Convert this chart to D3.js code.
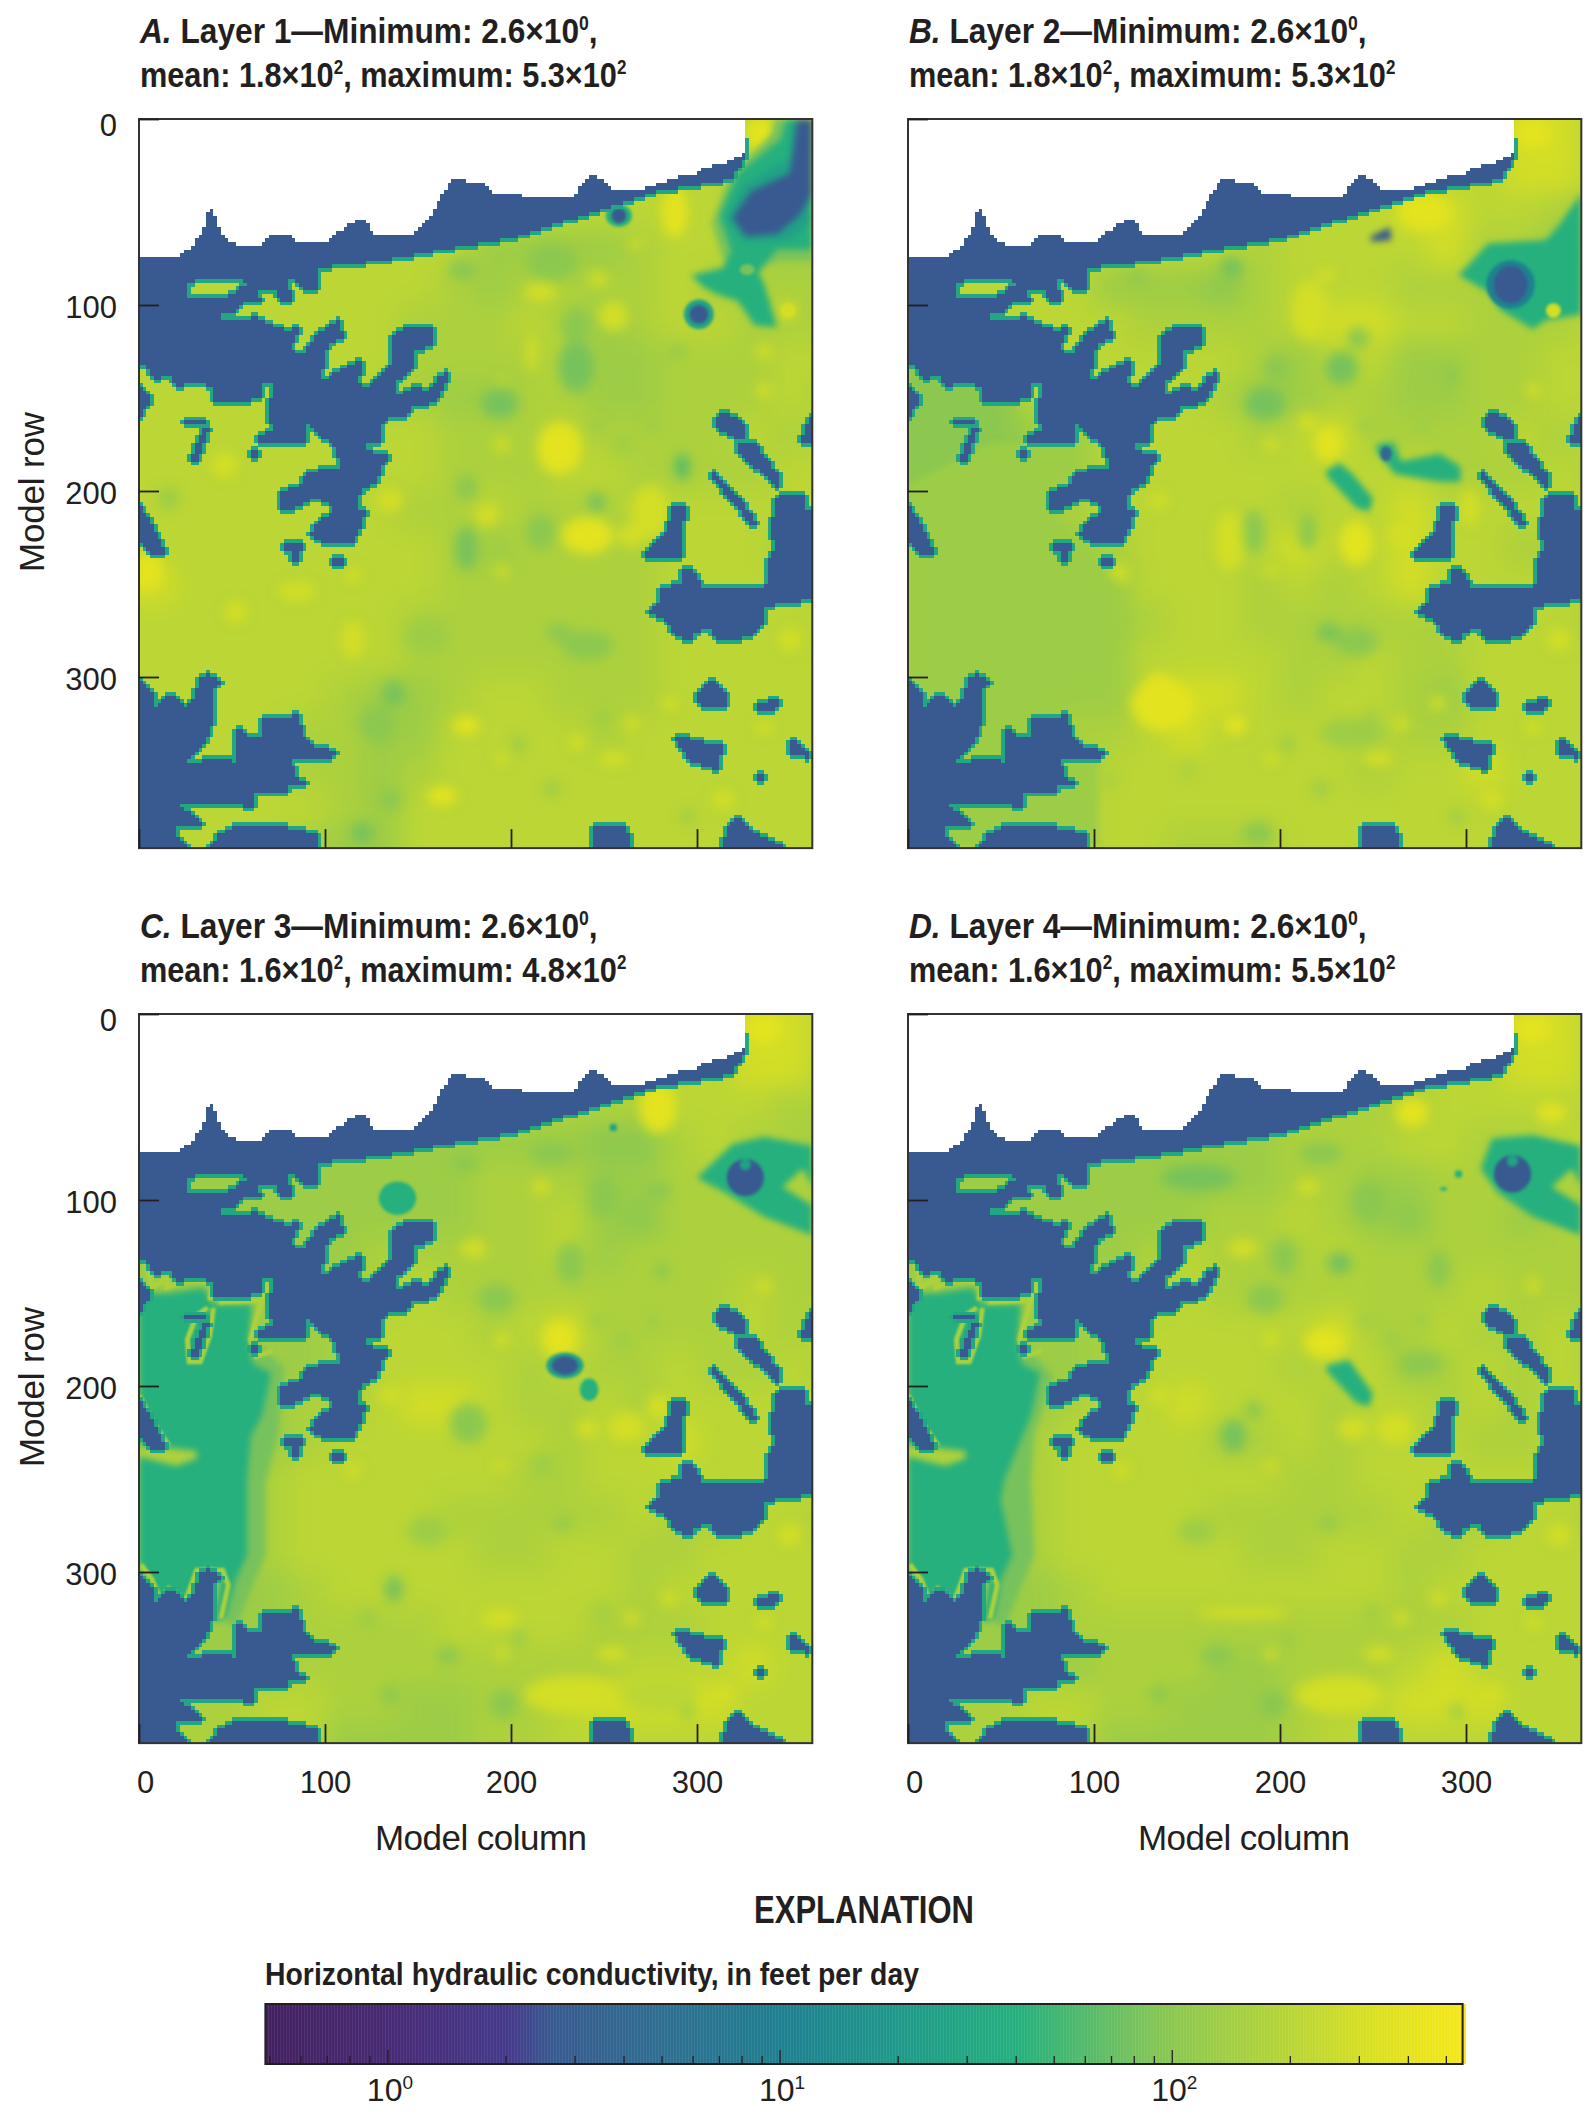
<!DOCTYPE html>
<html>
<head>
<meta charset="utf-8">
<script src="https://cdn.jsdelivr.net/npm/d3@7"></script>
<style>
  body { margin: 0; background: #fff; }
  text { font-family: "Liberation Sans Narrow", "Liberation Sans", sans-serif; fill: #231f20; }
</style>
</head>
<body>
<svg id="chart" width="1595" height="2117"></svg>
<script>
// Titles
const panelLetters = ['A.', 'B.', 'C.', 'D.'];
const layerNames = ['Layer 1', 'Layer 2', 'Layer 3', 'Layer 4'];
const layerMin = ['2.6', '2.6', '2.6', '2.6'];
const layerMean = ['1.8', '1.8', '1.6', '1.6'];
const layerMax = ['5.3', '5.3', '4.8', '5.5'];

// Colour key: log spaced conductivity against the printed ramp
const rampValues = [0.487, 1, 2, 2.6, 5, 10, 20, 40, 80, 100, 200, 316, 550];
const rampColors = ['#43205f', '#472a75', '#45398b', '#385a90', '#2f6f91', '#1f8090', '#1f9a8a', '#25b07e', '#77c25c', '#8cc84f', '#b9d536', '#d9e022', '#f6e81a'];
const legendMinor = [0.5, 0.6, 0.7, 0.8, 0.9, 2, 3, 4, 5, 6, 7, 8, 9, 20, 30, 40, 50, 60, 70, 80, 90, 200, 300, 400, 500];
const legendMajor = [1, 10, 100];

// One letter per conductivity class, feet per day
const levelKeys = 'abcdefghijklmn';
const levelValues = [2.6, 4, 10, 25, 40, 60, 80, 100, 130, 165, 205, 290, 380, 500];

// No-data area, model column and row
const whiteEdge = [[0,0],[0,72],[2,75],[22,75],[23,72],[28,69],[33,62],[36,55],[38,47],[40,48],[42,56],[46,63],[53,68],[64,68],[71,62],[82,62],[85,66],[100,66],[108,60],[118,53],[124,56],[126,62],[149,61],[158,50],[164,39],[170,31],[178,34],[187,35],[191,40],[204,40],[212,43],[232,43],[239,34],[243,29],[252,34],[254,38],[265,39],[279,35],[286,32],[300,29],[303,26],[314,24],[325,18],[327,11],[327,0]];

// Minimum-value cells, same in every layer
const maskMain = [[0,0],[322,0],[326,12],[326,21],[319,32],[279,39],[251,48],[232,54],[201,64],[170,69],[130,76],[95,80],[97,85],[97,92],[89,92],[83,85],[80,86],[82,98],[76,98],[74,92],[64,92],[66,98],[57,98],[53,103],[45,105],[45,108],[56,108],[63,106],[72,111],[80,114],[85,111],[87,113],[81,124],[89,126],[96,115],[109,107],[109,114],[113,116],[102,121],[100,128],[98,141],[110,134],[121,129],[118,142],[124,144],[135,132],[137,116],[144,112],[158,112],[158,121],[149,125],[147,135],[139,141],[138,149],[149,144],[156,146],[161,138],[167,136],[165,142],[160,152],[147,155],[143,161],[135,160],[131,164],[131,173],[122,174],[122,178],[135,181],[131,187],[128,196],[121,198],[118,204],[119,209],[122,211],[118,222],[115,228],[99,228],[92,224],[96,217],[106,210],[99,205],[92,205],[80,211],[75,210],[77,200],[86,197],[90,191],[99,188],[109,188],[104,174],[97,170],[90,162],[90,173],[78,175],[65,175],[65,170],[72,168],[70,160],[72,142],[67,141],[65,150],[52,153],[41,152],[40,144],[31,141],[20,144],[17,137],[9,141],[4,133],[0,132]];
const maskWestTop = [[0,143],[7,150],[1,160],[0,160]];
const maskStraitTop = [[24,162],[37,161],[37,164],[24,165]];
const maskStraitLow = [[36,164],[38,166],[34,176],[32,184],[28,183],[31,174]];
const maskDot = [[61,179],[65,179],[65,183],[61,183]];
const maskTee = [[79,228],[88,227],[86,237],[82,238],[81,231],[78,232]];
const maskDash = [[105,237],[111,237],[111,240],[105,240]];
const maskWest = [[0,207],[6,216],[15,234],[7,234],[0,227]];
const maskSouthWest = [[0,301],[7,307],[9,316],[15,310],[19,309],[25,317],[30,312],[32,301],[37,298],[44,303],[40,307],[39,327],[35,336],[26,344],[27,346],[46,343],[52,346],[53,327],[59,332],[65,332],[66,323],[79,323],[85,319],[89,332],[95,337],[106,340],[104,344],[82,345],[85,354],[90,357],[80,358],[80,362],[63,362],[61,370],[50,368],[22,368],[26,372],[34,379],[34,381],[19,380],[21,386],[28,392],[0,392]];
const maskSouth1 = [[38,392],[43,384],[52,380],[76,380],[95,384],[97,392]];
const maskSouth2 = [[243,392],[245,381],[262,380],[265,392]];
const maskSouth3 = [[314,392],[316,381],[322,376],[331,383],[348,392]];
const maskEast = [[344,201],[357,202],[358,210],[362,211],[362,258],[336,262],[335,272],[330,278],[310,281],[307,274],[299,276],[296,281],[288,277],[285,271],[274,265],[279,260],[281,252],[291,250],[292,243],[299,243],[303,251],[336,252],[339,246],[339,237],[342,231],[340,219],[342,209]];
const maskEast1 = [[309,162],[313,158],[322,160],[327,166],[325,173],[318,170],[313,168]];
const maskChain = [[322,174],[330,173],[337,182],[345,193],[345,200],[338,193],[331,187],[322,179]];
const maskStripe = [[307,189],[311,191],[323,204],[333,218],[330,219],[319,206],[308,193]];
const maskIsland = [[287,209],[294,207],[292,224],[291,236],[272,236],[272,232],[283,222]];
const maskEdge = [[357,170],[360,161],[362,160],[362,174],[357,173]];
const maskPond1 = [[299,310],[307,301],[317,310],[317,317],[303,317]];
const maskPond2 = [[333,314],[345,312],[343,317],[333,318]];
const maskPond3 = [[287,331],[314,337],[311,350],[296,345]];
const maskPond4 = [[349,336],[353,334],[361,341],[361,344],[350,341]];
const maskPond5 = [[332,353],[337,353],[337,357],[332,357]];
const maskIslandHole = [[25,90],[31,86],[56,85],[58,89],[52,93],[43,97],[27,95]];

const maskPolys = [maskMain, maskWestTop, maskStraitTop, maskStraitLow, maskDot, maskTee, maskDash, maskWest, maskSouthWest, maskSouth1, maskSouth2, maskSouth3, maskEast, maskEast1, maskChain, maskStripe, maskIsland, maskEdge, maskPond1, maskPond2, maskPond3, maskPond4, maskPond5];

// Coarse conductivity per layer, 20 x 20 model cells
const gridA = ['kkkkkkkkkkkkkkkkkkk','kkkkkkkkkkkkkkkkkkk','kkkkkkkkkkkkkkkkjjj','kkkkkkkkkiiiijkkjii','kkkkkkkkjijjjjkjjjj','kkkkkkkjjjkjijkkjjj','kkkkkkkjjjjkiijjjkk','kkkkkkjjiijjiijjjkj','kkkkkkkkjjjkjjjjkjk','kkkkkkkkjjjkkjjjjkk','kkkkkkkjjkjjjkkkkkk','kkkkkkkkjijjjjkkkjj','lkkkkkkkjjjjjjkkkkj','kkkkkkkjjjjjjjkkkkk','kkkkkkkjjjjjjjkkkkk','kkkkkjiijkkjjjkkkkk','kkkkjjiikkkkjkkkkkk','kkkkjjijkkkkkkkkkkk','kkkkkjikkkkkkkkkkkk','kkkkjiikkkkkkkkkkkk'];
const gridB = ['kkkkkkkkkkkkkkkkllk','kkkkkkkkkkkkkkkkllk','kkkkkkkkkkkkkllkkji','kkkkkkkkkjkkkkljjig','kkkkkiiihjkkkjjjjih','kkkkkkjjjjkllkkjjjk','kkkkkkkkkjikkiijjkk','hhhkkkkkjiijjiijjkk','hhhiikkkkjkljjjjkjk','hhiiikkkkkkkkkjjjkj','iiiijkkkkkjkklkkkkk','jjiiijkkkklkklkkjjj','jiiiiikkkjkjklkkkkk','jiiiiijkkjjjjjjkkkj','jiiiiikkkkjjkjjkkkk','jiiiiikllkjkkjikkkk','jiiijjklkkkkkjjkkkk','kiiiikkkkkkkjkklkkk','kkiijkkkkkkkkkkkkkk','kkiijkkjjjkkkkkkkkk'];
const gridC = ['kkkkkkkkkkkkkkkkllk','kkkkkkkkkkkkkkkkllk','jjjjjjjjjjjjjjkkkjj','iiiiiiiiiiiihhjkjji','iiiiiiiiijjjiijjjii','iiiiiiiiijjkihjjjjj','iiiiiijjjjjkijjjjjj','iiiiiijkjjjjjjjjkjj','iiiiijkkkjkljjjjkjk','iiiiijkkkkjkjjkjjkj','iiiijjkllkjjkjkkkkk','iiiijkkkkkkjkklkkkk','iiijkkkkkkjjkkkkkkk','iiijkkkkjjjjjkjjkkj','iiijkkkkkjjkkjjkkkk','iiiijkkkkkkkkjkkkkk','iiiijjjjkkkkjjjkkkk','iiiijjjjjjjjjkkklkk','jjjkkjjiijjkllllkkk','jjjkkiiiijjkkkkkkkk'];
const gridD = ['kkkkkkkkkkkkkkkkllk','kkkkkkkkkkkkkkkkllk','jjjjjjjjjjjjjjkkkkk','iiiiiiiiiijjjkkjjkk','iiiiiiiiiijjiijjjjj','iiiiiiiijjkjihjjijj','iiiiiijkjjjkjjjjjjj','iiiiiijkjjjjjjjkjjj','iiiiijkkkkkljjkjjkj','iiiiijkkkkjkkijkjkj','iiiijkklkkkjkkjkjkk','iiijkkkkjjkjkkkjjkk','iiijkkkkkkjjkkkkkkk','iiijkkkkjjjjjkjjkkj','iiijkkkkkjjkkjjkkkk','iiiijkkkkkkkkjkkkkk','iiiijjjjjjjjjjjkkkk','iiiiijjjiijjjklkkkk','jjjkkjjiiijkklllkkk','jjjkkiiiiijkkkkkkkk'];

// Soft highs and lows: column, row, radius across, radius down, class
const mottleShared = [[285,314,4,4,'l'],[265,325,4,4,'l'],[249,322,3,5,'i'],[204,336,4,5,'i'],[195,344,4,3,'l'],[314,366,6,5,'l'],[295,375,4,4,'i'],[336,327,4,4,'l'],[336,146,4,4,'l'],[276,165,4,4,'i'],[246,165,5,3,'i'],[195,175,4,4,'l'],[260,175,4,5,'i'],[195,243,4,3,'l'],[115,245,4,4,'l'],[109,355,5,5,'j'],[350,280,6,6,'l'],[222,360,5,4,'i'],[150,350,5,5,'j']];
const blobsA = [[46,186,7,7,'l'],[5,243,8,10,'m'],[85,254,10,5,'l'],[135,205,7,6,'l'],[226,177,12,14,'m'],[187,213,6,6,'l'],[241,224,14,10,'m'],[275,211,10,14,'l'],[265,224,8,6,'l'],[288,50,7,14,'m'],[267,67,3,3,'l'],[247,86,5,4,'l'],[216,93,9,5,'l'],[255,106,8,8,'l'],[349,103,5,5,'l'],[336,125,4,4,'l'],[211,126,3,10,'l'],[195,141,2,2,'l'],[176,326,7,5,'m'],[163,364,8,5,'m'],[236,335,5,4,'l'],[255,344,8,4,'l'],[115,280,6,10,'l'],[52,265,6,6,'l'],[174,81,8,6,'h'],[222,77,14,10,'h'],[235,133,10,14,'g'],[235,111,8,10,'h'],[194,153,10,8,'g'],[176,198,6,7,'h'],[246,206,5,5,'g'],[176,231,6,12,'g'],[216,222,8,10,'h'],[226,276,7,5,'h'],[241,283,14,8,'h'],[155,278,12,10,'i'],[137,309,6,7,'g'],[292,187,4,7,'f'],[16,204,6,6,'i'],[128,325,10,10,'h'],[120,384,6,6,'g'],[135,366,6,6,'h'],[290,125,4,3,'h'],[334,8,8,10,'m']];
const blobsB = [[137,315,17,14,'m'],[135,304,8,6,'m'],[78,250,6,5,'l'],[226,175,7,9,'m'],[216,103,10,16,'l'],[278,50,14,10,'m'],[336,8,10,8,'m'],[225,84,5,2,'m'],[215,163,5,5,'l'],[173,227,8,16,'l'],[241,228,9,12,'m'],[265,224,7,6,'l'],[302,209,5,10,'l'],[135,205,5,4,'l'],[113,243,5,4,'l'],[176,326,6,5,'m'],[253,344,8,4,'l'],[174,80,6,6,'g'],[233,134,9,9,'g'],[242,118,6,6,'h'],[192,153,11,9,'g'],[186,222,6,12,'h'],[215,222,5,10,'h'],[292,138,4,5,'h'],[226,276,6,5,'g'],[239,330,18,8,'i'],[241,281,12,8,'h'],[123,85,6,3,'h'],[198,134,7,8,'h'],[188,384,8,6,'h'],[204,336,3,4,'i']];
const blobsC = [[226,175,9,10,'m'],[279,50,10,14,'m'],[336,8,10,8,'m'],[135,205,6,4,'l'],[262,222,10,8,'l'],[241,223,6,5,'l'],[254,344,8,4,'l'],[232,366,25,10,'l'],[280,366,20,10,'k'],[216,93,5,4,'l'],[180,126,7,5,'l'],[279,211,6,7,'l'],[194,325,10,5,'l'],[175,80,7,5,'h'],[192,153,10,8,'h'],[232,134,8,11,'h'],[177,220,10,11,'h'],[250,98,8,12,'h'],[279,95,7,5,'h'],[137,309,5,7,'g'],[155,278,11,8,'i'],[166,345,6,5,'h'],[196,371,8,8,'h'],[135,366,5,5,'h'],[123,325,5,5,'i'],[217,242,6,6,'i'],[228,274,5,3,'h'],[281,138,4,5,'h'],[222,75,12,6,'h']];
const blobsD = [[224,177,11,8,'m'],[271,53,9,8,'m'],[346,53,8,5,'m'],[336,8,10,8,'m'],[215,93,6,4,'l'],[180,126,8,5,'l'],[135,205,5,4,'l'],[262,223,10,8,'l'],[239,223,8,6,'l'],[253,344,8,4,'l'],[232,366,24,10,'l'],[180,322,25,3,'l'],[156,88,20,7,'g'],[248,101,10,11,'h'],[232,134,7,6,'g'],[202,131,7,10,'h'],[192,153,10,8,'h'],[285,137,6,10,'h'],[175,227,7,9,'g'],[186,213,5,5,'h'],[276,188,12,6,'h'],[155,278,10,7,'i'],[166,345,8,6,'h'],[196,371,8,8,'h'],[135,366,5,5,'h'],[226,274,5,3,'h'],[222,75,12,6,'h']];

// Sharp small features, same format
const spotsA = [[301,105,8,8,'d'],[301,105,5,5,'a'],[258,52,7,6,'e'],[258,52,4,4,'a'],[327,81,4,3,'g'],[349,103,4,4,'l']];
const spotsB = [[324,89,13,13,'c'],[324,89,9,10,'a'],[257,180,3,4,'b'],[347,103,4,4,'l']];
const spotsC = [[139,99,10,9,'e'],[229,189,10,7,'d'],[229,189,7,5,'a'],[242,202,5,6,'e'],[255,61,2,2,'d'],[326,88,10,10,'a'],[326,81,3,3,'d']];
const spotsD = [[325,86,10,10,'a'],[325,79,3,3,'d'],[296,86,2,2,'e'],[288,94,2,1,'e']];

// Conductivity zones: class, then column and row outline
const neGreen = ['g', [[308,56],[318,30],[340,8],[342,0],[362,0],[362,76],[345,76],[331,80],[315,78]]];
const neTeal = ['e', [[312,52],[322,29],[345,11],[348,0],[362,0],[362,70],[343,70],[331,73],[319,72]]];
const neStar = ['e', [[297,84],[314,80],[319,70],[343,70],[333,83],[336,88],[343,112],[331,111],[322,98],[310,94],[303,90]]];
const nePool = ['d', [[316,54],[324,36],[350,21],[351,0],[362,0],[362,55],[350,65],[326,66]]];
const nePoolDark = ['a', [[319,53],[329,39],[350,29],[354,0],[362,0],[362,40],[355,52],[343,62],[326,63]]];
const zonesA = [neGreen, neTeal, neStar, nePool, nePoolDark];

const zonesB = [
  ['i', [[0,197],[42,175],[71,175],[78,214],[97,232],[113,258],[113,276],[99,304],[78,316],[89,330],[102,343],[102,392],[0,392]]],
  ['h', [[0,197],[42,175],[40,130],[0,130]]],
  ['e', [[296,84],[312,67],[343,65],[350,57],[362,40],[362,105],[343,108],[336,113],[319,103],[312,93]]],
  ['e', [[225,189],[232,185],[239,191],[250,204],[248,211],[241,209],[225,192]]],
  ['e', [[252,175],[261,174],[265,184],[286,180],[297,187],[297,195],[286,195],[262,191],[252,179]]],
  ['a', [[249,63],[259,58],[260,65],[249,66]]]
];
const westBar = ['j', [[0,232],[14,233],[31,235],[31,239],[20,243],[0,238]]];
const westBandC = ['g', [[61,175],[78,190],[75,225],[68,252],[68,291],[60,310],[52,330],[44,325],[58,252]]];
const westBandD = ['g', [[61,175],[78,195],[68,225],[66,252],[68,291],[60,310],[52,330],[44,325],[52,252]]];
const westZoneC = ['e', [[0,150],[15,150],[35,147],[40,156],[61,156],[59,175],[61,188],[71,193],[66,216],[60,227],[58,252],[58,291],[52,304],[46,325],[40,327],[44,304],[37,298],[26,314],[9,312],[0,296]]];
const westZoneD = ['e', [[0,150],[15,150],[35,147],[40,156],[61,156],[59,175],[61,188],[71,193],[66,216],[52,250],[50,262],[56,291],[50,304],[46,325],[40,327],[44,304],[37,298],[26,314],[9,312],[0,296]]];
const zonesC = [westBandC, westZoneC, westBar, ['e', [[300,88],[319,70],[336,66],[362,71],[362,119],[336,109],[315,96]]], ['j', [[346,93],[357,83],[362,93],[362,103]]]];
const zonesD = [westBandD, westZoneD, westBar, ['e', [[308,83],[314,67],[336,65],[362,71],[362,119],[336,109],[317,96]]], ['j', [[346,93],[357,83],[362,93],[362,103]]], ['e', [[225,189],[237,186],[250,204],[248,211],[241,209],[225,192]]]];

// Bright rims along the mask in the two lower layers
const rimNorth = [[4,134],[7,147],[15,142],[15,147],[26,143],[40,144],[38,154]];
const rimLoop = [[37,158],[31,162],[26,175],[27,187],[33,187],[38,173],[40,158]];
const rimInner = [[43,155],[66,154],[71,142]];
const rimInner2 = [[66,154],[60,175],[63,184],[72,181]];
const rimWest = [[0,205],[7,219],[16,232]];
const rimSouth = [[1,296],[7,304],[12,317],[16,309],[25,316],[31,299],[45,299],[48,307],[44,325]];
const rimsLower = [rimNorth, rimLoop, rimInner, rimInner2, rimWest, rimSouth];

const grids = [gridA, gridB, gridC, gridD];
const blobs = [blobsA, blobsB, blobsC, blobsD];
const spots = [spotsA, spotsB, spotsC, spotsD];
const zones = [zonesA, zonesB, zonesC, zonesD];
const rims = [[], [], rimsLower, rimsLower];

const axisTicks = [0, 100, 200, 300];
const nCols = 362;
const nRows = 392;
const pxPerCell = 1.86;
const panelLeft = [139, 908, 139, 908];
const panelTop = [119, 119, 1014, 1014];
const columnLabelOffset = [342, 336, 342, 336];

const svg = d3.select('#chart');
const defs = svg.append('defs');

const color = d3.scaleLog().domain(rampValues).range(rampColors).interpolate(d3.interpolateRgb);
const levelColor = key => color(levelValues[levelKeys.indexOf(key)]);

[['blurWide', 13], ['blurSoft', 6], ['blurZone', 3], ['blurSharp', 1.4], ['blurRim', 0.9]].forEach(([id, sd]) => {
  defs.append('filter').attr('id', id)
    .attr('filterUnits', 'userSpaceOnUse')
    .attr('x', -200).attr('y', -200).attr('width', 2100).attr('height', 2600)
    .attr('color-interpolation-filters', 'sRGB')
    .append('feGaussianBlur').attr('stdDeviation', sd);
});

// Rasterise the mask once on the 2-cell model grid
const step = 2;
const maskCols = Math.ceil(nCols / step);
const maskRows = Math.ceil(nRows / step);
const isMask = d3.range(maskRows).map(j => d3.range(maskCols).map(i => {
  const p = [(i + 0.5) * step, (j + 0.5) * step];
  return maskPolys.some(poly => d3.polygonContains(poly, p)) && !d3.polygonContains(maskIslandHole, p);
}));
const isHalo = isMask.map((row, j) => row.map((m, i) => {
  if (m) return false;
  return !!((isMask[j - 1] && isMask[j - 1][i]) || (isMask[j + 1] && isMask[j + 1][i]) || row[i - 1] || row[i + 1]);
}));
const isWhite = d3.range(maskRows).map(j => d3.range(maskCols).map(i => d3.polygonContains(whiteEdge, [(i + 0.5) * step, (j + 0.5) * step])));
const runsOf = cells => {
  const out = [];
  cells.forEach((row, j) => {
    let start = -1;
    row.concat([false]).forEach((on, i) => {
      if (on && start < 0) start = i;
      if (!on && start >= 0) { out.push({ j, start, end: i }); start = -1; }
    });
  });
  return out;
};
const maskRuns = runsOf(isMask);
const haloRuns = runsOf(isHalo);
const whiteRuns = runsOf(isWhite);

function drawPanel(idx) {
  const x = d3.scaleLinear().domain([0, nCols]).range([panelLeft[idx], panelLeft[idx] + nCols * pxPerCell]);
  const y = d3.scaleLinear().domain([0, nRows]).range([panelTop[idx], panelTop[idx] + nRows * pxPerCell]);

  const clipId = 'clip' + idx;
  defs.append('clipPath').attr('id', clipId).append('rect')
    .attr('x', x(0)).attr('y', y(0))
    .attr('width', x(nCols) - x(0)).attr('height', y(nRows) - y(0));

  const g = svg.append('g').attr('clip-path', `url(#${clipId})`);

  // Coarse field, outer cells run past the frame so the blur keeps its edge
  const cells = [];
  grids[idx].forEach((row, j) => row.split('').forEach((key, i) => cells.push({ i, j, key })));
  g.append('g').attr('filter', 'url(#blurWide)')
    .selectAll('rect').data(cells).enter().append('rect')
    .attr('x', d => x(d.i === 0 ? -60 : d.i * 20))
    .attr('y', d => y(d.j === 0 ? -60 : d.j * 20))
    .attr('width', d => x(d.i === 18 ? 460 : (d.i + 1) * 20) - x(d.i === 0 ? -60 : d.i * 20) + 0.5)
    .attr('height', d => y(d.j === 19 ? 460 : (d.j + 1) * 20) - y(d.j === 0 ? -60 : d.j * 20) + 0.5)
    .attr('fill', d => levelColor(d.key));

  const drawEllipses = (data, filter) => g.append('g').attr('filter', `url(#${filter})`)
    .selectAll('ellipse').data(data).enter().append('ellipse')
    .attr('cx', d => x(d[0])).attr('cy', d => y(d[1]))
    .attr('rx', d => x(d[2]) - x(0)).attr('ry', d => y(d[3]) - y(0))
    .attr('fill', d => levelColor(d[4]));

  drawEllipses(mottleShared.concat(blobs[idx]), 'blurSoft');

  const line = d3.line().x(d => x(d[0])).y(d => y(d[1]));
  g.append('g').attr('filter', 'url(#blurZone)')
    .selectAll('path.zone').data(zones[idx]).enter().append('path')
    .attr('class', 'zone')
    .attr('d', d => line(d[1]) + 'Z')
    .attr('fill', d => levelColor(d[0]));
  g.append('g').attr('filter', 'url(#blurRim)')
    .selectAll('path.rim').data(rims[idx]).enter().append('path')
    .attr('class', 'rim')
    .attr('d', d => line(d))
    .attr('fill', 'none')
    .attr('stroke', levelColor('j'))
    .attr('stroke-width', 5);

  drawEllipses(spots[idx], 'blurSharp');

  const drawRuns = (runs, fill) => g.append('g').attr('shape-rendering', 'crispEdges')
    .selectAll('rect').data(runs).enter().append('rect')
    .attr('x', d => x(d.start * step))
    .attr('y', d => y(d.j * step))
    .attr('width', d => x(d.end * step) - x(d.start * step))
    .attr('height', d => y((d.j + 1) * step) - y(d.j * step) + 0.3)
    .attr('fill', fill);

  drawRuns(haloRuns, color(30));
  drawRuns(maskRuns, color(2.6));
  drawRuns(whiteRuns, '#fff');

  // Frame and axes
  svg.append('rect')
    .attr('x', x(0)).attr('y', y(0))
    .attr('width', x(nCols) - x(0)).attr('height', y(nRows) - y(0))
    .attr('fill', 'none').attr('stroke', '#333').attr('stroke-width', 2);

  const xAxis = svg.append('g')
    .attr('transform', `translate(0,${y(nRows)})`)
    .call(d3.axisBottom(x).tickValues(axisTicks).tickSize(-19));
  const yAxis = svg.append('g')
    .attr('transform', `translate(${x(0)},0)`)
    .call(d3.axisLeft(y).tickValues(axisTicks).tickSize(-20));
  [xAxis, yAxis].forEach(a => {
    a.select('.domain').remove();
    a.selectAll('line').attr('stroke', '#231f20').attr('stroke-width', 1.8);
  });

  xAxis.selectAll('text').attr('font-size', 31).attr('dy', 0).attr('y', 50)
    .attr('x', d => d === 0 ? 6 : 0);
  yAxis.selectAll('text').attr('font-size', 31).attr('dy', '0.36em').attr('x', -22)
    .attr('y', d => d === 0 ? 5 : 1);
  if (idx < 2) xAxis.selectAll('text').remove();
  if (idx % 2 === 1) yAxis.selectAll('text').remove();

  if (idx >= 2) {
    svg.append('text')
      .attr('x', x(0) + columnLabelOffset[idx]).attr('y', y(nRows) + 107)
      .attr('text-anchor', 'middle').attr('font-size', 35)
      .attr('textLength', 212).attr('lengthAdjust', 'spacing')
      .text('Model column');
  }
  if (idx % 2 === 0) {
    svg.append('text')
      .attr('transform', `translate(44,${y(0) + 373}) rotate(-90)`)
      .attr('text-anchor', 'middle').attr('font-size', 35)
      .attr('textLength', 160).attr('lengthAdjust', 'spacing')
      .text('Model row');
  }

  // Title, two lines with raised exponents, squeezed to the condensed width
  const title1 = svg.append('text')
    .attr('transform', `translate(${x(0) + 1},${y(0) - 76.5}) scale(0.88,1)`)
    .attr('font-size', 36).attr('font-weight', 700);
  title1.append('tspan').attr('font-style', 'italic').text(panelLetters[idx]);
  title1.append('tspan').text(` ${layerNames[idx]}—Minimum: ${layerMin[idx]}×10`);
  title1.append('tspan').attr('dy', -13).attr('font-size', 20).text('0');
  title1.append('tspan').attr('dy', 13).text(',');

  const title2 = svg.append('text')
    .attr('transform', `translate(${x(0) + 1},${y(0) - 32}) scale(0.853,1)`)
    .attr('font-size', 36).attr('font-weight', 700);
  title2.append('tspan').text(`mean: ${layerMean[idx]}×10`);
  title2.append('tspan').attr('dy', -13).attr('font-size', 20).text('2');
  title2.append('tspan').attr('dy', 13).text(`, maximum: ${layerMax[idx]}×10`);
  title2.append('tspan').attr('dy', -13).attr('font-size', 20).text('2');
}

d3.range(4).forEach(drawPanel);

// Explanation
const legendX = d3.scaleLog().domain([0.487, 550]).range([265.4, 1462.6]);
const legendTop = 2004;
const legendBottom = 2064;

svg.append('text')
  .attr('x', 864).attr('y', 1923).attr('text-anchor', 'middle')
  .attr('font-size', 38).attr('font-weight', 700)
  .attr('textLength', 220).attr('lengthAdjust', 'spacingAndGlyphs')
  .text('EXPLANATION');
svg.append('text')
  .attr('x', 265).attr('y', 1985)
  .attr('font-size', 32).attr('font-weight', 700)
  .attr('textLength', 654).attr('lengthAdjust', 'spacingAndGlyphs')
  .text('Horizontal hydraulic conductivity, in feet per day');

const legendSteps = d3.range(0, 1198, 3).map(px => legendX.invert(265.4 + px));
svg.append('g').selectAll('rect').data(legendSteps).enter().append('rect')
  .attr('x', d => legendX(d)).attr('y', legendTop)
  .attr('width', 3.4).attr('height', legendBottom - legendTop)
  .attr('fill', d => color(d));
svg.append('rect')
  .attr('x', legendX(0.487)).attr('y', legendTop)
  .attr('width', legendX(550) - legendX(0.487)).attr('height', legendBottom - legendTop)
  .attr('fill', 'none').attr('stroke', '#231f20').attr('stroke-width', 2);

const legendAxis = svg.append('g').attr('transform', `translate(0,${legendBottom})`);
legendAxis.selectAll('line.minor').data(legendMinor).enter().append('line')
  .attr('class', 'minor')
  .attr('x1', d => legendX(d)).attr('x2', d => legendX(d))
  .attr('y1', 0).attr('y2', -8)
  .attr('stroke', '#231f20').attr('stroke-width', 1.3);
legendAxis.selectAll('line.major').data(legendMajor).enter().append('line')
  .attr('class', 'major')
  .attr('x1', d => legendX(d)).attr('x2', d => legendX(d))
  .attr('y1', 0).attr('y2', -14)
  .attr('stroke', '#231f20').attr('stroke-width', 1.3);
const legendLabels = svg.append('g').selectAll('text').data(legendMajor).enter().append('text')
  .attr('x', d => legendX(d) + 2).attr('y', 2101)
  .attr('text-anchor', 'middle').attr('font-size', 32);
legendLabels.append('tspan').text('10');
legendLabels.append('tspan').attr('dy', -12).attr('font-size', 19).text(d => Math.round(Math.log10(d)));
</script>
</body>
</html>
